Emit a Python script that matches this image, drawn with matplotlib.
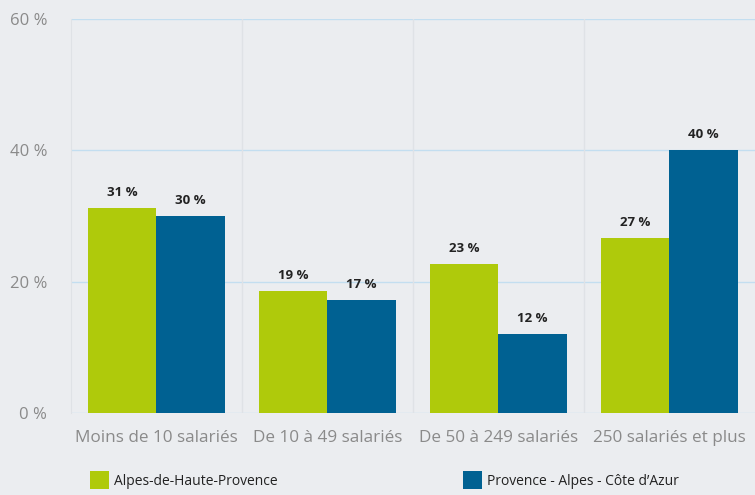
import matplotlib
matplotlib.use("Agg")
import matplotlib.pyplot as plt
import numpy as np
from matplotlib.patches import Patch

# data
CATEGORIES = ["Moins de 10 salariés", "De 10 à 49 salariés",
              "De 50 à 249 salariés", "250 salariés et plus"]
ALPES_HP = [31.2, 18.6, 22.7, 26.6]
PACA = [30.0, 17.2, 12.0, 40.0]
SERIES_NAMES = ["Alpes-de-Haute-Provence", "Provence - Alpes - Côte d\u2019Azur"]
Y_TICKS = [0, 20, 40, 60]

# colours
BG = "#ebedf0"
GREEN = "#afca0b"
BLUE = "#006192"
GRID = "#c3def0"
SEP = "#dfe2e6"
TICK_TXT = "#8a8a8a"

plt.rcParams['font.family'] = ['Open Sans', 'DejaVu Sans']

fig = plt.figure(figsize=(7.55, 4.95), dpi=100, facecolor=BG)
ax = fig.add_axes([0.094, 0.1657, 0.906, 0.7959], facecolor=BG)

x = np.arange(len(CATEGORIES))
w = 0.4
b1 = ax.bar(x - w / 2, ALPES_HP, w, color=GREEN, zorder=3)
b2 = ax.bar(x + w / 2, PACA, w, color=BLUE, zorder=3)

for bars, vals in ((b1, ALPES_HP), (b2, PACA)):
    for rect, v in zip(bars, vals):
        ax.annotate("{:.0f} %".format(v),
                    (rect.get_x() + rect.get_width() / 2, rect.get_height()),
                    xytext=(0, 6.5), textcoords="offset points",
                    ha="center", va="bottom", fontsize=9.5,
                    fontweight="bold", color="#222222", zorder=4)

ax.set_xlim(-0.5, len(CATEGORIES) - 0.5)
ax.set_ylim(0, 60)
ax.set_yticks(Y_TICKS)
ax.set_yticklabels(["{} %".format(t) for t in Y_TICKS])
ax.set_xticks(x)
ax.set_xticklabels(CATEGORIES)

# grid and separators
for t in Y_TICKS:
    ax.axhline(t, color=GRID, lw=1, zorder=1)
for s in np.arange(0.5, len(CATEGORIES) - 0.5, 1):
    ax.axvline(s, color=SEP, lw=1, zorder=1)

for side in ("top", "right", "bottom"):
    ax.spines[side].set_visible(False)
ax.spines["left"].set_color(SEP)
ax.tick_params(axis="both", length=0, colors=TICK_TXT)
ax.tick_params(axis="y", labelsize=12, pad=17)
ax.tick_params(axis="x", labelsize=12.3, pad=12)

# legend
for col, name, xpos in ((GREEN, SERIES_NAMES[0], 0.119), (BLUE, SERIES_NAMES[1], 0.613)):
    fig.legend(handles=[Patch(facecolor=col, label=name)],
               loc="center left", bbox_to_anchor=(xpos, 0.03),
               frameon=False, fontsize=10, handlelength=1.4,
               handleheight=1.55, handletextpad=0.35, borderpad=0,
               borderaxespad=0, labelcolor="#222222")

fig.savefig("out.png", dpi=100, facecolor=BG)
